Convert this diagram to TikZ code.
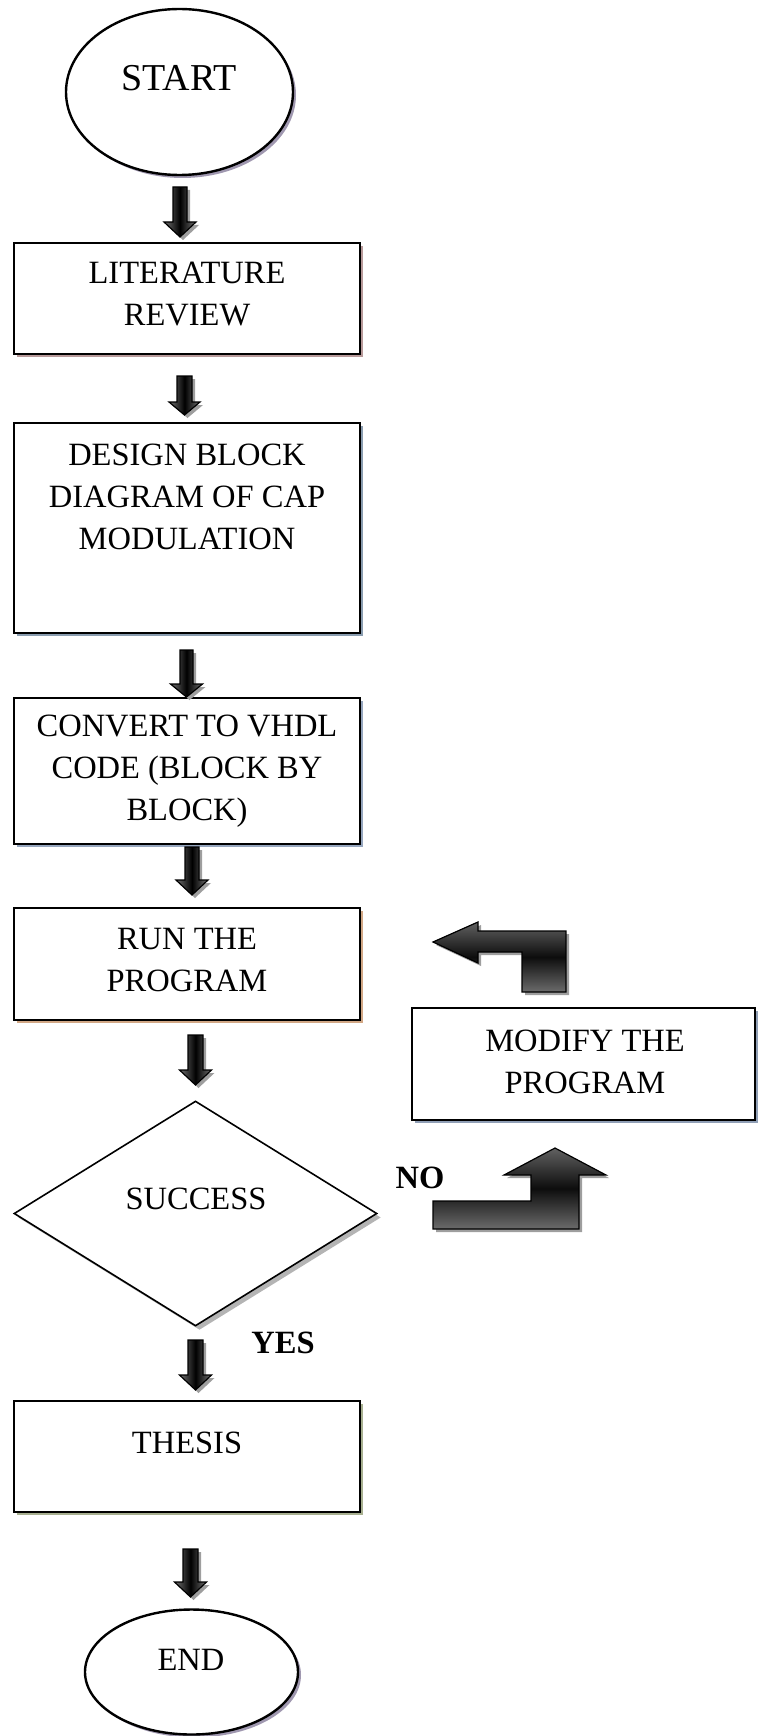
\documentclass[tikz,border=0pt]{standalone}
\usepackage{fontspec}
\setmainfont{Liberation Serif}
\usetikzlibrary{shapes.geometric,shadows}
\definecolor{shLit}{HTML}{B89A9A}
\definecolor{shDes}{HTML}{8A9DB0}
\definecolor{shCon}{HTML}{96A6BE}
\definecolor{shRun}{HTML}{D2A886}
\definecolor{shThe}{HTML}{A8B090}
\definecolor{shMod}{HTML}{909FB6}
\definecolor{shEll}{HTML}{A098B0}
\definecolor{shDia}{HTML}{B4B4B4}
\newcommand\dnarrow[6]{% cx, top, tip, shaft half-width, head half-width, head length
  \path[blk] ({#1-#4},#2) -- ({#1+#4},#2) -- ({#1+#4},{#3-#6}) -- ({#1+#5},{#3-#6})
    -- (#1,#3) -- ({#1-#5},{#3-#6}) -- ({#1-#4},{#3-#6}) -- cycle;}
\begin{document}
\begin{tikzpicture}[x=1pt,y=-1pt,
  box/.style={draw, line width=2.7pt, fill=white, inner sep=0pt, minimum width=346pt},
  sh/.style={drop shadow={shadow xshift=3pt, shadow yshift=-3pt, fill=#1, opacity=1}},
  txt/.style={font=\fontsize{32.5}{42}\selectfont, align=center, inner sep=0pt},
  btxt/.style={font=\fontsize{32.5}{42}\selectfont\bfseries, inner sep=0pt},
  blk/.style={draw=black, line width=1.2pt, line join=miter,
    left color=black!55, right color=black!55, middle color=black,
    drop shadow={shadow xshift=3pt, shadow yshift=-3pt, fill=black!38, opacity=1}},
  blkv/.style={draw=black, line width=1.2pt, line join=miter,
    top color=black!62, bottom color=black!58, middle color=black!95,
    drop shadow={shadow xshift=3pt, shadow yshift=-3pt, fill=black!38, opacity=1}},
]
\useasboundingbox (0,0) rectangle (757,1736);

% start / end
\node[draw, ellipse, line width=2.4pt, fill=white, sh=shEll,
      minimum width=227pt, minimum height=166pt] (start) at (179.5,92) {};
\node[font=\fontsize{38}{44}\selectfont, inner sep=0pt] (starttxt) at (179,78) {START};

\node[draw, ellipse, line width=2.4pt, fill=white, sh=shEll,
      minimum width=213pt, minimum height=125pt] (end) at (191.5,1672) {};
\node[txt] (endtxt) at (191,1660) {END};

% boxes
\node[box, sh=shLit, minimum height=111pt] (lit) at (187,298.5) {};
\node[txt] (littxt) at (187,294) {LITERATURE\\REVIEW};

\node[box, sh=shDes, minimum height=210pt] (des) at (187,528) {};
\node[txt] (destxt) at (187,496.5) {DESIGN BLOCK\\DIAGRAM OF CAP\\MODULATION};

\node[box, sh=shCon, minimum height=146pt] (con) at (187,771) {};
\node[txt] (contxt) at (187,771.5) {CONVERT TO VHDL\\CODE (BLOCK BY\\BLOCK)};

\node[box, sh=shRun, minimum height=112pt] (run) at (187,964) {};
\node[txt] (runtxt) at (187,960) {RUN THE\\PROGRAM};

\node[box, sh=shThe, minimum height=111pt] (the) at (187,1456.5) {};
\node[txt] (thetxt) at (187,1443) {THESIS};

\node[box, sh=shMod, minimum width=343pt, minimum height=112pt] (mod) at (583.5,1064) {};
\node[txt] (modtxt) at (585,1061.5) {MODIFY THE\\PROGRAM};

% decision
\node[draw, diamond, line width=1.6pt, fill=white, inner sep=0pt,
      drop shadow={shadow xshift=4pt, shadow yshift=-4pt, fill=shDia, opacity=1},
      minimum width=363pt, minimum height=225pt] (succ) at (195.5,1213.5) {};
\node[txt] (succtxt) at (196,1199) {SUCCESS};

\node[btxt] (yes) at (283,1343) {YES};
\node[btxt] (no) at (420,1178) {NO};

% block arrows (down)
\dnarrow{180}{187}{237}{7}{16}{15}
\dnarrow{184.5}{376}{415}{7.5}{15.5}{13}
\dnarrow{186.5}{650}{697}{6.5}{16}{13}
\dnarrow{192}{847}{895}{7}{16}{15}
\dnarrow{195.5}{1035}{1085}{7.5}{16}{15}
\dnarrow{195.5}{1340}{1390}{7.5}{16}{15}
\dnarrow{190.5}{1549}{1597}{7.5}{16}{15}

% bent arrow back to RUN
\path[blkv] (433,942) -- (478,922) -- (478,931) -- (566,931) -- (566,992)
  -- (522,992) -- (522,952) -- (478,952) -- (478,963) -- cycle;

% bent arrow NO -> MODIFY
\path[blkv] (433,1201) -- (531,1201) -- (531,1175) -- (504,1175) -- (555,1148)
  -- (606,1175) -- (579,1175) -- (579,1229) -- (433,1229) -- cycle;
\end{tikzpicture}
\end{document}
